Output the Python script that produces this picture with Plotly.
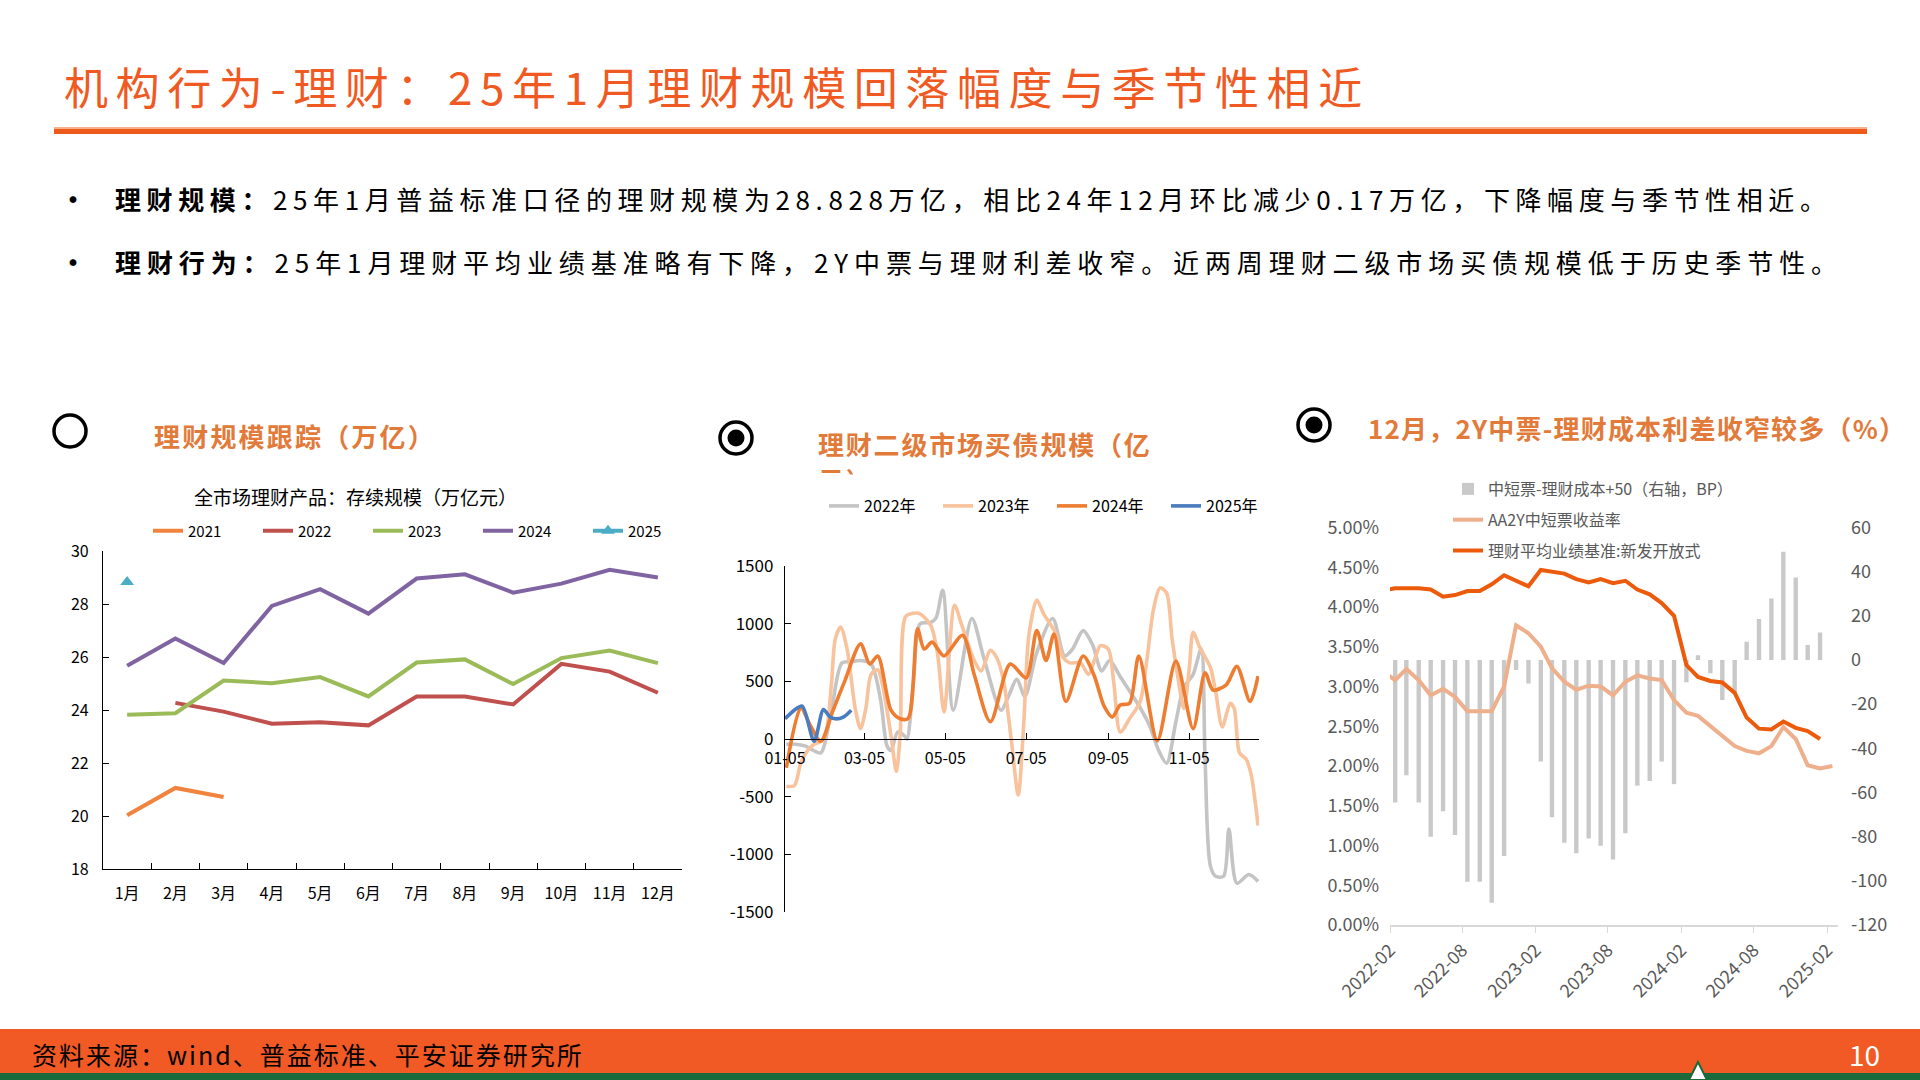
import plotly.graph_objects as go
import pandas as pd

W, H = 1920, 1080
FONT = "Noto Sans CJK SC"


def fx(p):
    return p / W


def fy(p):
    return 1 - p / H


# ---------------- Chart 1 data : 理财规模跟踪 ----------------
month_labels = ["1月", "2月", "3月", "4月", "5月", "6月", "7月", "8月", "9月", "10月", "11月", "12月"]
aum_2021 = [20.03, 21.06, 20.72]
aum_2022 = [24.27, 23.94, 23.48, 23.54, 23.42, 24.51, 24.51, 24.21, 25.74, 25.45, 24.65]  # 2月起
aum_2023 = [23.82, 23.88, 25.11, 25.01, 25.24, 24.51, 25.79, 25.91, 24.98, 25.96, 26.24, 25.77]
aum_2024 = [25.67, 26.70, 25.77, 27.93, 28.56, 27.64, 28.96, 29.12, 28.43, 28.77, 29.29, 29.00]
aum_2025 = [28.83]

# ---------------- Chart 2 data : 理财二级市场买债规模 ----------------
buy22_dates = ["01-06", "01-13", "01-20", "01-25", "02-01", "02-09", "02-17", "02-24", "03-02", "03-10",
               "03-17", "03-22", "03-25", "03-30", "04-04", "04-06", "04-11", "04-16", "04-24", "04-28",
               "05-03", "05-11", "05-25", "06-03", "06-16", "06-22", "06-28", "07-04", "07-13", "07-25",
               "08-03", "08-09", "08-17", "08-24", "08-31", "09-06", "09-14", "09-27", "10-06", "10-13",
               "10-19", "10-26", "11-01", "11-08", "11-14", "11-17", "11-21", "11-25", "12-01", "12-05",
               "12-11", "12-20", "12-27"]
buy22_vals = [-45, -45, -60, -90, -120, 250, 660, 670, 680, 650,
              350, -60, -100, 60, 30, 0, 500, 1000, 1010, 1050,
              1290, 250, 1045, 705, 250, 380, 520, 370, 750, 1045,
              720, 780, 940, 820, 590, 680, 540, 310, 120, -100,
              -210, 150, 450, 560, 780, -175, -1100, -1190, -1190, -780,
              -1250, -1175, -1235]

buy23_dates = ["01-06", "01-12", "01-17", "01-22", "01-27", "02-01", "02-05", "02-09", "02-12", "02-16",
               "02-21", "02-27", "03-02", "03-06", "03-10", "03-15", "03-18", "03-25", "03-29", "04-01",
               "04-05", "04-11", "04-16", "04-24", "04-29", "05-04", "05-12", "05-17", "05-27", "06-01",
               "06-08", "06-13", "06-18", "06-24", "06-29", "07-03", "07-07", "07-13", "07-18", "07-23",
               "07-27", "08-02", "08-07", "08-15", "08-21", "08-26", "08-30", "09-05", "09-09", "09-14",
               "09-21", "09-29", "10-04", "10-09", "10-14", "10-19", "10-23", "10-28", "11-01", "11-05",
               "11-08", "11-13", "11-21", "11-25", "11-30", "12-06", "12-09", "12-13", "12-18", "12-22",
               "12-25", "12-27"]
buy23_vals = [-410, -405, -205, -100, -45, -20, 60, 470, 870, 970,
              770, 265, 90, 265, 560, 600, 500, 30, -280, 50,
              1060, 1090, 1085, 985, 750, 235, 1160, 1000, 675, 590,
              770, 700, 500, -30, -485, 100, 895, 1205, 1090, 1000,
              925, 705, 660, 660, 560, 700, 810, 780, 500, 60,
              175, 325, 675, 1120, 1310, 1265, 880, 500, 265, 600,
              925, 795, 620, 410, 105, 310, 265, -120, -175, -320,
              -560, -750]

buy24_dates = ["01-06", "01-17", "01-24", "02-01", "02-10", "02-19", "03-02", "03-09", "03-15", "03-25",
               "04-01", "04-07", "04-14", "04-19", "04-25", "05-04", "05-18", "05-27", "06-08", "06-23",
               "07-05", "07-13", "07-20", "07-26", "08-04", "08-17", "08-25", "09-02", "09-08", "09-14",
               "09-21", "09-28", "10-12", "10-26", "11-08", "11-17", "11-23", "12-03", "12-11", "12-21",
               "12-27"]
buy24_vals = [-250, 270, 120, -20, 240, 500, 825, 650, 720, 250,
              175, 180, 955, 780, 840, 720, 900, 550, 150, 650,
              530, 940, 680, 910, 325, 720, 560, 280, 190, 295,
              310, 720, -15, 675, 90, 575, 425, 470, 630, 325,
              545]

buy25_dates = ["01-05", "01-12", "01-18", "01-27", "02-03", "02-08", "02-12", "02-18", "02-24"]
buy25_vals = [175, 250, 285, -20, 255, 190, 175, 190, 250]

c2_ticks = ["01-05", "03-05", "05-05", "07-05", "09-05", "11-05"]
c2_yticks = [-1500, -1000, -500, 0, 500, 1000, 1500]

# ---------------- Chart 3 data : 利差 ----------------
# 中短票-理财成本+50 (BP), 2022-02 ... 2025-01
spread_bp = [-64.5, -52.2, -64.5, -80.0, -68.5, -79.2, -100.4, -100.4, -109.9, -88.8,
             -4.5, -10.6, -46.0, -71.2, -82.7, -87.5, -80.8, -84.1, -90.3, -78.5,
             -56.9, -54.8, -46.0, -56.2, -10.1, 2.1, -6.0, -18.1, -15.0, 8.3,
             18.6, 27.9, 49.0, 37.4, 6.8, 12.4]
# 理财平均业绩基准:新发开放式 (%), 2022-01 ... 2025-01
wm_benchmark = [4.21, 4.235, 4.235, 4.235, 4.22, 4.13, 4.15, 4.20, 4.20, 4.285,
                4.40, 4.33, 4.26, 4.465, 4.445, 4.42, 4.35, 4.31, 4.35, 4.30,
                4.33, 4.22, 4.16, 4.05, 3.89, 3.27, 3.12, 3.07, 3.05, 2.92,
                2.61, 2.47, 2.46, 2.56, 2.48, 2.44, 2.34]
# AA2Y中短票收益率 (%), 2022-01 ... 2025-02
aa2y_yield = [3.19, 3.08, 3.22, 3.08, 2.89, 2.97, 2.87, 2.69, 2.69, 2.69,
              3.00, 3.77, 3.67, 3.50, 3.23, 3.06, 2.96, 3.01, 3.00, 2.89,
              3.06, 3.14, 3.10, 3.08, 2.83, 2.67, 2.63, 2.50, 2.37, 2.25,
              2.19, 2.16, 2.25, 2.49, 2.34, 2.01, 1.97, 2.00]
c3_left_ticks = [0.0, 0.005, 0.01, 0.015, 0.02, 0.025, 0.03, 0.035, 0.04, 0.045, 0.05]
c3_right_ticks = [-120, -100, -80, -60, -40, -20, 0, 20, 40, 60]

months3 = pd.period_range("2022-01", "2025-02", freq="M")
mid3 = [p.start_time + pd.Timedelta(days=13) for p in months3]

# ---------------- Figure ----------------
fig = go.Figure()

# Chart 1 traces
c1 = [("2021", month_labels[:3], aum_2021, "#F0843E"),
      ("2022", month_labels[1:], aum_2022, "#C0504D"),
      ("2023", month_labels, aum_2023, "#9BBB59"),
      ("2024", month_labels, aum_2024, "#8064A2")]
for name, xs, ys, col in c1:
    fig.add_trace(go.Scatter(x=xs, y=ys, name=name, mode="lines",
                             line=dict(color=col, width=4), xaxis="x", yaxis="y",
                             legend="legend", hoverinfo="skip"))
fig.add_trace(go.Scatter(x=month_labels[:1], y=aum_2025, name="2025", mode="lines+markers",
                         line=dict(color="#4BACC6", width=4),
                         marker=dict(symbol="triangle-up", size=12, color="#4BACC6"),
                         xaxis="x", yaxis="y", legend="legend", hoverinfo="skip"))


# Chart 2 traces
def d24(md):
    return pd.to_datetime(["2024-" + d for d in md])


c2 = [("2022年", buy22_dates, buy22_vals, "#C4C4C4"),
      ("2023年", buy23_dates, buy23_vals, "#F8C29C"),
      ("2024年", buy24_dates, buy24_vals, "#EE7D32"),
      ("2025年", buy25_dates, buy25_vals, "#4A7CC0")]
for name, ds, vs, col in c2:
    fig.add_trace(go.Scatter(x=d24(ds), y=vs, name=name, mode="lines",
                             line=dict(color=col, width=3.6, shape="spline", smoothing=0.8),
                             xaxis="x2", yaxis="y2", legend="legend2", hoverinfo="skip"))

# Chart 3 traces
fig.add_trace(go.Bar(x=mid3[1:-1], y=spread_bp, name="中短票-理财成本+50（右轴，BP）",
                     marker=dict(color="#C9C9C9", line=dict(width=0)),
                     width=11 * 86400000, xaxis="x3", yaxis="y3",
                     legend="legend3", legendgroup="g1", hoverinfo="skip"))
fig.add_trace(go.Scatter(x=mid3, y=[v / 100 for v in aa2y_yield], name="AA2Y中短票收益率",
                         mode="lines", line=dict(color="#EEB08C", width=4),
                         xaxis="x3", yaxis="y4", legend="legend3", legendgroup="g2",
                         hoverinfo="skip"))
fig.add_trace(go.Scatter(x=mid3[:-1], y=[v / 100 for v in wm_benchmark],
                         name="理财平均业绩基准:新发开放式",
                         mode="lines", line=dict(color="#EC5A0C", width=4),
                         xaxis="x3", yaxis="y4", legend="legend3", legendgroup="g3",
                         hoverinfo="skip"))

axis_font = dict(family=FONT, size=16, color="#000000")
gray_font = dict(family=FONT, size=18, color="#595959")

c2_ydom = [fy(912), fy(566)]

fig.update_layout(
    width=W, height=H, autosize=False,
    margin=dict(l=0, r=0, t=0, b=0, pad=0, autoexpand=False),
    paper_bgcolor="white", plot_bgcolor="rgba(0,0,0,0)",
    font=dict(family=FONT, color="#000000"),
    showlegend=True,
    # chart 1
    xaxis=dict(domain=[fx(103), fx(682)], anchor="y", type="category",
               categoryorder="array", categoryarray=month_labels, range=[-0.5, 11.5],
               showline=True, linecolor="#000000", linewidth=1.3,
               ticks="inside", tickson="boundaries", ticklen=6, tickcolor="#000000",
               ticklabelstandoff=10,
               tickfont=axis_font, showgrid=False, zeroline=False, automargin=False),
    yaxis=dict(domain=[fy(869), fy(551)], anchor="x", range=[18, 30], dtick=2,
               showline=True, linecolor="#000000", linewidth=1.3,
               ticks="inside", ticklen=6, tickcolor="#000000",
               ticklabelstandoff=10,
               tickfont=axis_font, showgrid=False, zeroline=False, automargin=False),
    # chart 2
    xaxis2=dict(domain=[fx(785), fx(1259)], anchor="free",
                position=(c2_ydom[0] + c2_ydom[1]) / 2, type="date",
                range=["2024-01-05", "2024-12-27 17:00"],
                tickvals=list(d24(c2_ticks)), ticktext=c2_ticks,
                showline=True, linecolor="#000000", linewidth=1.3,
                ticks="inside", ticklen=6, tickcolor="#000000",
                ticklabelstandoff=5,
                tickfont=axis_font, showgrid=False, zeroline=False, automargin=False),
    yaxis2=dict(domain=c2_ydom, anchor="x2", range=[-1500, 1500],
                tickvals=c2_yticks, ticktext=[str(v) for v in c2_yticks],
                showline=True, linecolor="#000000", linewidth=1.3,
                ticks="inside", ticklen=6, tickcolor="#000000",
                ticklabelstandoff=7,
                tickfont=dict(family=FONT, size=17, color="#000000"),
                showgrid=False, zeroline=False, automargin=False),
    # chart 3
    xaxis3=dict(domain=[fx(1390), fx(1838)], anchor="y3", type="date",
                range=["2022-02-01", "2025-02-28"], tick0="2022-02-01", dtick="M6",
                tickformat="%Y-%m", tickangle=-45,
                showline=True, linecolor="#D9D9D9", linewidth=1.5,
                ticks="outside", ticklen=6, tickcolor="#D9D9D9",
                tickfont=gray_font, showgrid=False, zeroline=False, automargin=False),
    yaxis3=dict(domain=[fy(925), fy(527.5)], anchor="x3", side="right",
                range=[-120, 60], tickvals=c3_right_ticks,
                ticktext=[str(v) for v in c3_right_ticks],
                showline=False, ticks="", tickfont=gray_font, ticklabelstandoff=12,
                showgrid=False, zeroline=False, automargin=False),
    yaxis4=dict(overlaying="y3", anchor="x3", side="left", range=[0, 0.05],
                tickvals=c3_left_ticks, tickformat=".2%",
                showline=False, ticks="", tickfont=gray_font, ticklabelstandoff=10,
                showgrid=False, zeroline=False, automargin=False),
    legend=dict(x=fx(148), y=fy(531), xanchor="left", yanchor="middle",
                orientation="h", entrywidth=65, entrywidthmode="pixels",
                font=dict(family=FONT, size=15, color="#000000"),
                bgcolor="rgba(0,0,0,0)"),
    legend2=dict(x=fx(824), y=fy(506), xanchor="left", yanchor="middle",
                 orientation="h", entrywidth=69, entrywidthmode="pixels",
                 font=dict(family=FONT, size=16, color="#000000"),
                 bgcolor="rgba(0,0,0,0)"),
    legend3=dict(x=fx(1448), y=fy(472), xanchor="left", yanchor="top",
                 orientation="v", traceorder="grouped", tracegroupgap=7,
                 font=dict(family=FONT, size=16, color="#595959"),
                 bgcolor="rgba(0,0,0,0)"),
)

# ---------------- Slide decorations ----------------
shapes = []
# title underline
shapes.append(dict(type="rect", xref="paper", yref="paper", x0=fx(54), x1=fx(1867),
                   y0=fy(129), y1=fy(127), fillcolor="#F6B08C", line=dict(width=0)))
shapes.append(dict(type="rect", xref="paper", yref="paper", x0=fx(54), x1=fx(1867),
                   y0=fy(134), y1=fy(129), fillcolor="#EE5A1C", line=dict(width=0)))
# radio circles
for (cx, cy, filled) in [(70, 431, False), (736, 438, True), (1314, 425, True)]:
    shapes.append(dict(type="circle", xref="paper", yref="paper",
                       x0=fx(cx - 16), x1=fx(cx + 16), y0=fy(cy + 16), y1=fy(cy - 16),
                       line=dict(color="#000000", width=3.5), fillcolor="rgba(0,0,0,0)"))
    if filled:
        shapes.append(dict(type="circle", xref="paper", yref="paper",
                           x0=fx(cx - 8.5), x1=fx(cx + 8.5), y0=fy(cy + 8.5), y1=fy(cy - 8.5),
                           line=dict(width=0), fillcolor="#000000"))
# footer bar
shapes.append(dict(type="rect", xref="paper", yref="paper", x0=0, x1=1,
                   y0=fy(1073), y1=fy(1029), fillcolor="#F15A24", line=dict(width=0)))
shapes.append(dict(type="rect", xref="paper", yref="paper", x0=0, x1=1,
                   y0=0, y1=fy(1073), fillcolor="#1B6A3B", line=dict(width=0)))
# small logo peak
shapes.append(dict(type="path", xref="paper", yref="paper",
                   path=f"M {fx(1689)},{fy(1080)} L {fx(1698)},{fy(1062)} L {fx(1707)},{fy(1080)} Z",
                   fillcolor="#FFFFFF", line=dict(color="#1B6A3B", width=2)))
fig.update_layout(shapes=shapes)

ann = []


def spaced(t, ls):
    return f'<span style="letter-spacing:{ls}px">{t}</span>'


ann.append(dict(text=spaced("机构行为-理财：25年1月理财规模回落幅度与季节性相近", 7.6),
                x=fx(62), y=fy(86), xanchor="left", yanchor="middle",
                font=dict(family=FONT, size=44, color="#F05A22")))
ann.append(dict(text="•", x=fx(73), y=fy(198), xanchor="center", yanchor="middle",
                font=dict(family=FONT, size=32, color="#000000")))
ann.append(dict(text="•", x=fx(73), y=fy(261), xanchor="center", yanchor="middle",
                font=dict(family=FONT, size=32, color="#000000")))
ann.append(dict(text=spaced("<b>理财规模：</b>25年1月普益标准口径的理财规模为28.828万亿，相比24年12月环比减少0.17万亿，下降幅度与季节性相近。", 5.6),
                x=fx(113), y=fy(198), xanchor="left", yanchor="middle",
                font=dict(family=FONT, size=26, color="#000000")))
ann.append(dict(text=spaced("<b>理财行为：</b>25年1月理财平均业绩基准略有下降，2Y中票与理财利差收窄。近两周理财二级市场买债规模低于历史季节性。", 5.9),
                x=fx(113), y=fy(261), xanchor="left", yanchor="middle",
                font=dict(family=FONT, size=26, color="#000000")))
# section headings
head_font = dict(family=FONT, size=26, color="#E27A3A")
ann.append(dict(text=spaced("<b>理财规模跟踪（万亿）</b>", 2.2), x=fx(152), y=fy(435),
                xanchor="left", yanchor="middle", font=head_font))
ann.append(dict(text=spaced("<b>理财二级市场买债规模（亿</b>", 1.8), x=fx(816), y=fy(443),
                xanchor="left", yanchor="middle", font=head_font))
ann.append(dict(text=spaced("<b>元）</b>", 1.8), x=fx(816), y=fy(479),
                xanchor="left", yanchor="middle", font=head_font))
# cover the lower part of the wrapped second line (clipped text box in the original)
ann.append(dict(text=" ", x=fx(806), y=fy(474), xanchor="left", yanchor="top",
                width=110, height=20, borderpad=0, bgcolor="#FFFFFF", showarrow=False,
                font=dict(size=8)))
ann.append(dict(text=spaced("<b>12月，2Y中票-理财成本利差收窄较多（%）</b>", 1.2), x=fx(1366), y=fy(427),
                xanchor="left", yanchor="middle", font=head_font))
# chart 1 title
ann.append(dict(text="全市场理财产品：存续规模（万亿元）", x=fx(355), y=fy(496),
                xanchor="center", yanchor="middle",
                font=dict(family=FONT, size=19, color="#000000")))
# footer
ann.append(dict(text=spaced("资料来源：wind、普益标准、平安证券研究所", 2), x=fx(30), y=fy(1054),
                xanchor="left", yanchor="middle",
                font=dict(family=FONT, size=25, color="#000000")))
ann.append(dict(text="10", x=fx(1864), y=fy(1054), xanchor="center", yanchor="middle",
                font=dict(family=FONT, size=28, color="#FFFFFF")))
for a in ann:
    a.setdefault("xref", "paper")
    a.setdefault("yref", "paper")
    a.setdefault("showarrow", False)
fig.update_layout(annotations=ann)

fig.write_html("out.html", config={"displayModeBar": False},
               post_script="document.body.style.margin='0';document.body.style.overflow='hidden';")
